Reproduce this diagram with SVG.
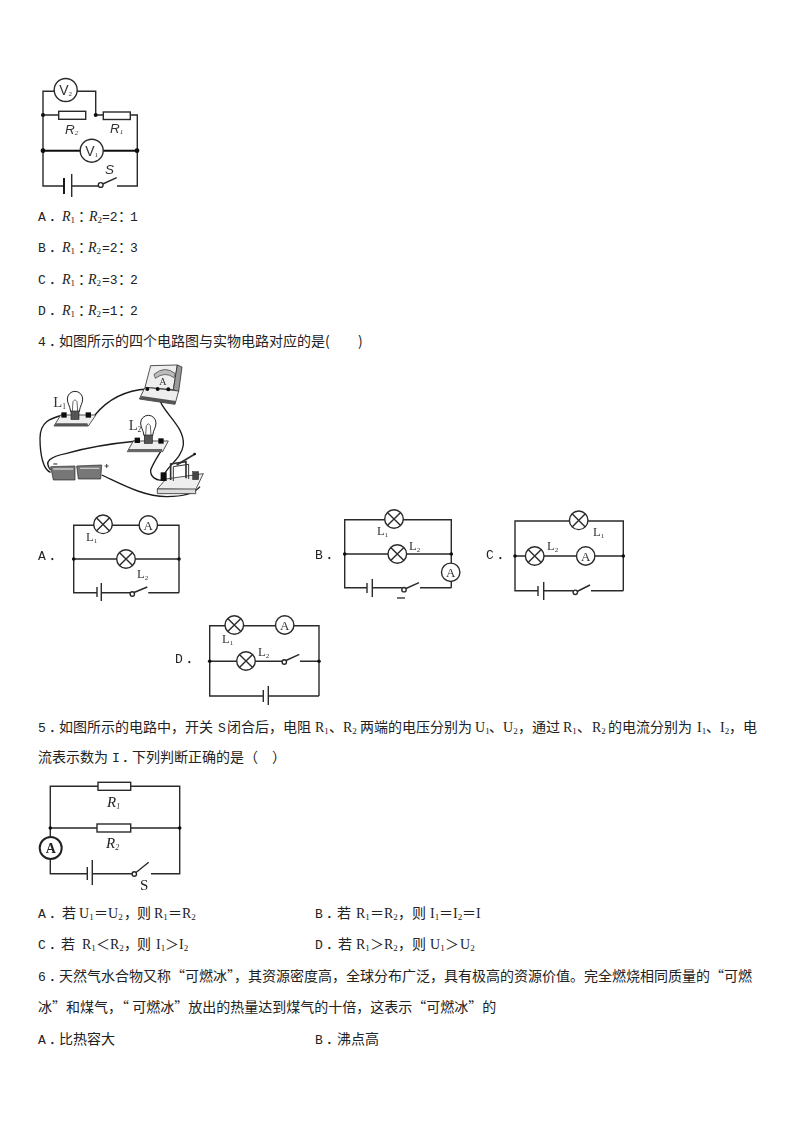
<svg xmlns="http://www.w3.org/2000/svg" width="794" height="1123" viewBox="0 0 794 1123" xml:lang="zh">
<style>
text{font-family:"Noto Sans CJK SC","Noto Sans",sans-serif;font-size:14px;fill:#222}
.l{font-family:"Liberation Mono",monospace;font-size:13px}
.r{font-family:"Liberation Serif",serif;font-size:14px}
.ri{font-family:"Liberation Serif",serif;font-size:14px;font-style:italic}
.s{font-family:"Liberation Serif",serif;font-size:9px}
.c{font-family:"Liberation Serif",serif;font-size:12.5px;fill:#333}
.cs{font-family:"Liberation Serif",serif;font-size:7px;fill:#333}
.a{font-family:"Liberation Sans",sans-serif;font-size:14px;fill:#333}
.ai{font-family:"Liberation Sans",sans-serif;font-size:13.5px;font-style:italic;fill:#333}
.w{fill:none;stroke:#2a2a2a;stroke-width:1.4}
.t{fill:none;stroke:#111;stroke-width:1.9}
.d{fill:#111;stroke:none}
.b{fill:#fff;stroke:#2a2a2a;stroke-width:1.4}
.pw{fill:none;stroke:#1a1a1a;stroke-width:4}
.pb{fill:#eee;stroke:#333;stroke-width:2.5}
.pd{fill:#444;stroke:#222;stroke-width:1.5}
.pt{font-family:"Liberation Serif",serif;font-size:44px;fill:#333}
</style>
<defs>
<g id="lamp"><circle r="9.300" class="b"/><path d="M-6.600-6.600L6.600 6.600M-6.600 6.600L6.600-6.600" class="w"/></g>
<g id="amm"><circle r="9.200" class="b"/><text y="4.500" text-anchor="middle" class="c" style="font-size:13px">A</text></g>
<g id="bulb">
<path d="M122 170C120 152 112 146 112 132A23 23 0 1 1 158 132C158 146 150 152 148 170Z" fill="#fff" stroke="#222" stroke-width="3"/>
<path d="M127 168L129 140L135 134L141 140L143 168" fill="none" stroke="#444" stroke-width="2.500"/>
<rect x="123" y="168" width="24" height="25" fill="#555" stroke="#222" stroke-width="2"/>
</g>
<filter id="soft"><feGaussianBlur stdDeviation="0.45"/></filter>
</defs>

<g id="fig-3" filter="url(#soft)">
<g id="fig-3-wires">
<path class="w" d="M95.700 115V91.300H43V186H64M71.700 186H98M117 186H137.300V115H130M103.300 115H95.700M85.700 115H58.700M58.700 115H43"/>
<path class="t" d="M43 150.700H137.300"/>
<path class="t" d="M64 178V194"/>
<path class="w" d="M71.700 174V197M102.700 184L116.700 177.700"/>
</g>
<circle class="d" cx="43" cy="115" r="2"/><circle class="d" cx="95.700" cy="115" r="2"/><circle class="d" cx="43" cy="150.700" r="2.400"/><circle class="d" cx="137" cy="150.700" r="2.400"/>
<g id="v2"><circle class="b" cx="65.700" cy="90" r="11.500"/><text class="a" x="65.700" y="95" text-anchor="middle">V<tspan class="cs" dy="1">2</tspan></text></g>
<g id="v1"><circle class="b" cx="91.700" cy="150.700" r="11.500"/><text class="a" x="91.700" y="156" text-anchor="middle">V<tspan class="cs" dy="1">1</tspan></text></g>
<g id="r2"><rect class="b" x="58.700" y="111.300" width="27" height="8"/></g>
<g id="r1"><rect class="b" x="103.300" y="112" width="27" height="7.500"/></g>
<circle class="b" cx="100.700" cy="185" r="2.400"/>
<text class="ai" x="65" y="134">R<tspan class="cs" dy="1">2</tspan></text>
<text class="ai" x="110" y="133">R<tspan class="cs" dy="1">1</tspan></text>
<text class="ai" x="105" y="174">S</text>
</g>

<g id="q3-options">
<text x="38" y="221"><tspan class="l">A</tspan><tspan x="49">．</tspan><tspan class="ri" x="62">R</tspan><tspan class="s" dy="2">1</tspan><tspan x="78" dy="-2">：</tspan><tspan class="ri" x="89">R</tspan><tspan class="s" dy="2">2</tspan><tspan class="l" x="102" dy="-2">=2</tspan><tspan x="118">：</tspan><tspan class="l" x="130">1</tspan></text>
<text x="38" y="252"><tspan class="l">B</tspan><tspan x="49">．</tspan><tspan class="ri" x="62">R</tspan><tspan class="s" dy="2">1</tspan><tspan x="78" dy="-2">：</tspan><tspan class="ri" x="88">R</tspan><tspan class="s" dy="2">2</tspan><tspan class="l" x="102" dy="-2">=2</tspan><tspan x="118">：</tspan><tspan class="l" x="130">3</tspan></text>
<text x="38" y="284"><tspan class="l">C</tspan><tspan x="49">．</tspan><tspan class="ri" x="62">R</tspan><tspan class="s" dy="2">1</tspan><tspan x="78" dy="-2">：</tspan><tspan class="ri" x="88">R</tspan><tspan class="s" dy="2">2</tspan><tspan class="l" x="102" dy="-2">=3</tspan><tspan x="118">：</tspan><tspan class="l" x="130">2</tspan></text>
<text x="38" y="315"><tspan class="l">D</tspan><tspan x="49">．</tspan><tspan class="ri" x="62">R</tspan><tspan class="s" dy="2">1</tspan><tspan x="78" dy="-2">：</tspan><tspan class="ri" x="88">R</tspan><tspan class="s" dy="2">2</tspan><tspan class="l" x="102" dy="-2">=1</tspan><tspan x="118">：</tspan><tspan class="l" x="130">2</tspan></text>
</g>

<text id="q4" x="38" y="346"><tspan class="l">4</tspan><tspan x="49">．</tspan><tspan x="59">如图所示的四个电路图与实物电路对应的是</tspan><tspan x="325">(</tspan><tspan x="358">)</tspan></text>

<g id="fig-4-photo" transform="translate(30 355) scale(.3333)" filter="url(#soft)">
<g id="photo-wires">
<path class="pw" d="M352 102C300 105 240 125 195 180"/>
<path class="pw" d="M100 180C60 190 30 200 30 250C30 300 40 345 62 352"/>
<path class="pw" d="M62 345C40 320 60 305 110 295C180 275 250 265 322 258"/>
<path class="pw" d="M410 258C400 280 370 320 362 345C360 365 380 378 395 375"/>
<path class="pw" d="M383 115C390 170 465 210 460 270C455 310 415 330 398 365"/>
<path class="pw" d="M215 360C270 385 340 425 410 425C450 425 490 420 510 395"/>
</g>
<g id="ammeter">
<path class="pb" d="M362 32L442 30L430 104L345 97Z"/>
<path d="M442 30L456 36L446 110L430 104Z" fill="#999" stroke="#333" stroke-width="2.500"/>
<path d="M372 58Q405 30 436 56L432 68Q405 48 376 70Z" fill="#bbb" stroke="#333" stroke-width="2"/>
<path class="pb" d="M345 97L446 108L435 148L328 132Z"/>
<path d="M328 132L435 148L438 138L335 123Z" fill="#555"/>
<circle class="d" cx="352" cy="102" r="6"/><circle class="d" cx="383" cy="102" r="6"/><circle class="d" cx="415" cy="103" r="6"/>
<text x="388" y="90" style="font-family:'Liberation Serif',serif;font-size:30px;fill:#333">A</text>
</g>
<g id="lamp-1">
<path class="pb" d="M72 213L92 180H198L175 213Z"/><path d="M72 213H175L172 205H78Z" fill="#555"/>
<use href="#bulb"/>
<rect class="d" x="94" y="172" width="16" height="16"/><rect class="d" x="167" y="172" width="16" height="16"/>
<text class="pt" x="70" y="156">L<tspan dy="6" style="font-size:22px">1</tspan></text>
</g>
<g id="lamp-2">
<path class="pb" d="M292 290L310 258H415L398 290Z"/><path d="M292 290H398L396 282H297Z" fill="#666"/>
<use href="#bulb" x="220" y="72"/>
<rect class="d" x="314" y="248" width="16" height="16"/><rect class="d" x="385" y="250" width="16" height="16"/>
<text class="pt" x="296" y="224">L<tspan dy="6" style="font-size:22px">2</tspan></text>
</g>
<g id="battery">
<path d="M62 335L135 333L135 375H70Z" fill="#777" stroke="#222" stroke-width="2"/>
<path d="M140 333L215 330L212 372H145Z" fill="#777" stroke="#222" stroke-width="2"/>
<path d="M70 342H130M150 340H208" stroke="#ccc" stroke-width="4"/>
<path d="M70 327H82" stroke="#222" stroke-width="3"/>
<path d="M224 333H236M230 327V339" stroke="#222" stroke-width="2.500"/>
</g>
<g id="switch">
<path class="pb" d="M382 402L408 372L520 356L497 404Z"/>
<path d="M382 402H497V416H382Z" fill="#ddd" stroke="#333" stroke-width="2.500"/>
<path d="M422 375V327L468 320V370" fill="none" stroke="#333" stroke-width="5"/>
<path d="M430 378V335L476 328V372" fill="none" stroke="#333" stroke-width="3"/>
<path d="M440 330L495 297" stroke="#333" stroke-width="5"/>
<circle class="d" cx="494" cy="297" r="4"/>
<rect class="d" x="392" y="352" width="18" height="26"/>
<rect class="pd" x="488" y="350" width="18" height="24"/>
</g>
</g>

<g id="circuit-a" filter="url(#soft)">
<text x="38" y="560"><tspan class="l">A</tspan><tspan x="49">．</tspan></text>
<path class="w" d="M179 592.700V525.300H73.700V592.700H97M101.300 592.700H130M148.300 592.700H179M73.700 559H179M97 587V597M101.300 583V601M134 592.500L147.300 587"/>
<circle class="d" cx="73.700" cy="559" r="1.800"/><circle class="d" cx="179" cy="559" r="1.800"/>
<circle class="b" cx="132.300" cy="594" r="2.200"/>
<use href="#lamp" x="103" y="524.300"/><use href="#amm" x="148.300" y="525"/><use href="#lamp" x="126" y="559"/>
<text class="c" x="86" y="541">L<tspan class="cs" dy="2">1</tspan></text>
<text class="c" x="137" y="578">L<tspan class="cs" dy="2">2</tspan></text>
</g>

<g id="circuit-b" filter="url(#soft)">
<text x="315" y="559"><tspan class="l">B</tspan><tspan x="326">．</tspan></text>
<path class="w" d="M451.300 587.700V519.700H344.700V587.700H367M372.300 587.700H402M420 587.700H451.300M344.700 554H451.300M367 583V593M372.300 579V597M406 588.500L419 582.700"/>
<path d="M397 598H405" stroke="#444" stroke-width="1.500"/>
<circle class="d" cx="344.700" cy="554" r="1.800"/><circle class="d" cx="451.300" cy="554" r="1.800"/>
<circle class="b" cx="404" cy="589.700" r="2.200"/>
<use href="#lamp" x="394" y="519"/><use href="#lamp" x="397.300" y="554"/><use href="#amm" x="450.700" y="572.300"/>
<text class="c" x="377" y="535">L<tspan class="cs" dy="2">1</tspan></text>
<text class="c" x="409" y="550">L<tspan class="cs" dy="2">2</tspan></text>
</g>

<g id="circuit-c" filter="url(#soft)">
<text x="486" y="559"><tspan class="l">C</tspan><tspan x="497">．</tspan></text>
<path class="w" d="M623.300 590.700V521H515V590.700H538M543.700 590.700H573M591 590.700H623.300M515 556H623.300M538 586V596M543.700 582V600M577 591.500L590 585"/>
<circle class="d" cx="515" cy="556" r="1.800"/><circle class="d" cx="623.300" cy="556" r="1.800"/>
<circle class="b" cx="575.300" cy="592.300" r="2.200"/>
<use href="#lamp" x="578.700" y="520.300"/><use href="#lamp" x="534.700" y="556"/><use href="#amm" x="585.700" y="556"/>
<text class="c" x="593" y="536">L<tspan class="cs" dy="2">1</tspan></text>
<text class="c" x="547" y="550">L<tspan class="cs" dy="2">2</tspan></text>
</g>

<g id="circuit-d" filter="url(#soft)">
<text x="175" y="663"><tspan class="l">D</tspan><tspan x="186">．</tspan></text>
<path class="w" d="M319 696V625.700H209.700V696H263.300M268.300 696H319M209.700 661.300H282M300 661.300H319M263.300 690V702M268.300 686V705M286 660.500L299.300 654.300"/>
<circle class="d" cx="209.700" cy="661.300" r="1.800"/><circle class="d" cx="319" cy="661.300" r="1.800"/>
<circle class="b" cx="284.300" cy="662" r="2.200"/>
<use href="#lamp" x="234.300" y="625"/><use href="#amm" x="284.700" y="625"/><use href="#lamp" x="246" y="661"/>
<text class="c" x="222" y="643">L<tspan class="cs" dy="2">1</tspan></text>
<text class="c" x="258" y="656">L<tspan class="cs" dy="2">2</tspan></text>
</g>

<g id="q5">
<text y="732"><tspan class="l" x="38">5</tspan><tspan x="49">．</tspan><tspan x="59">如图所示的电路中，开关</tspan><tspan class="l" x="218">S</tspan><tspan x="227">闭合后，电阻</tspan><tspan class="r" x="315">R</tspan><tspan class="s" dy="2">1</tspan><tspan x="329" dy="-2">、</tspan><tspan class="r" x="343">R</tspan><tspan class="s" dy="2">2</tspan><tspan x="360" dy="-2">两端的电压分别为</tspan><tspan class="r" x="475">U</tspan><tspan class="s" dy="2">1</tspan><tspan x="489" dy="-2">、</tspan><tspan class="r" x="503">U</tspan><tspan class="s" dy="2">2</tspan><tspan x="518" dy="-2">，通过</tspan><tspan class="r" x="563">R</tspan><tspan class="s" dy="2">1</tspan><tspan x="577" dy="-2">、</tspan><tspan class="r" x="592">R</tspan><tspan class="s" dy="2">2</tspan><tspan x="608" dy="-2">的电流分别为</tspan><tspan class="r" x="697">I</tspan><tspan class="s" dy="2">1</tspan><tspan x="706" dy="-2">、</tspan><tspan class="r" x="720">I</tspan><tspan class="s" dy="2">2</tspan><tspan x="729" dy="-2">，电</tspan></text>
<text y="762"><tspan x="38">流表示数为</tspan><tspan class="l" x="112">I</tspan><tspan x="122">．</tspan><tspan x="132">下列判断正确的是（</tspan><tspan x="272">）</tspan></text>
</g>

<g id="fig-5" filter="url(#soft)">
<path class="w" d="M98 786.300H50.300V873.700H87.300M92.300 873.700H132M151 873.700H179.700V786.300H130.700M50.300 828H179.700M87.300 867V880M92.300 860V885M136 872.500L148.700 862.300"/>
<circle class="d" cx="50.300" cy="828" r="1.800"/><circle class="d" cx="179.700" cy="828" r="1.800"/>
<g id="r1-5"><rect class="b" x="98" y="782.300" width="32.700" height="8"/></g>
<g id="r2-5"><rect class="b" x="97" y="824" width="33.700" height="8"/></g>
<g id="ammeter-5"><circle cx="50.700" cy="848" r="11" fill="#fff" stroke="#222" stroke-width="2"/><text x="50.700" y="853" text-anchor="middle" style="font-family:'Liberation Serif',serif;font-size:14px;font-weight:bold">A</text></g>
<circle class="b" cx="134.300" cy="874" r="2.200"/>
<text class="ri" x="107" y="807" style="font-size:15px">R<tspan class="cs" dy="2" style="font-size:8px">1</tspan></text>
<text class="ri" x="106" y="848" style="font-size:15px">R<tspan class="cs" dy="2" style="font-size:8px">2</tspan></text>
<text class="r" x="140" y="890" style="font-size:15px">S</text>
</g>

<g id="q5-options">
<text y="918"><tspan class="l" x="38">A</tspan><tspan x="49">．</tspan><tspan x="62">若</tspan><tspan class="r" x="79">U</tspan><tspan class="s" dy="2">1</tspan><tspan x="94" dy="-2">＝</tspan><tspan class="r" x="108">U</tspan><tspan class="s" dy="2">2</tspan><tspan x="124" dy="-2">，</tspan><tspan x="137">则</tspan><tspan class="r" x="154">R</tspan><tspan class="s" dy="2">1</tspan><tspan x="168" dy="-2">＝</tspan><tspan class="r" x="182">R</tspan><tspan class="s" dy="2">2</tspan></text>
<text y="918"><tspan class="l" x="315">B</tspan><tspan x="326">．</tspan><tspan x="337">若</tspan><tspan class="r" x="356">R</tspan><tspan class="s" dy="2">1</tspan><tspan x="370" dy="-2">＝</tspan><tspan class="r" x="384">R</tspan><tspan class="s" dy="2">2</tspan><tspan x="398" dy="-2">，</tspan><tspan x="412">则</tspan><tspan class="r" x="430">I</tspan><tspan class="s" dy="2">1</tspan><tspan x="439" dy="-2">＝</tspan><tspan class="r" x="453">I</tspan><tspan class="s" dy="2">2</tspan><tspan x="462" dy="-2">＝</tspan><tspan class="r" x="476">I</tspan></text>
<text y="949"><tspan class="l" x="38">C</tspan><tspan x="49">．</tspan><tspan x="61">若</tspan><tspan class="r" x="82">R</tspan><tspan class="s" dy="2">1</tspan><tspan x="96" dy="-2">＜</tspan><tspan class="r" x="110">R</tspan><tspan class="s" dy="2">2</tspan><tspan x="124" dy="-2">，</tspan><tspan x="137">则</tspan><tspan class="r" x="156">I</tspan><tspan class="s" dy="2">1</tspan><tspan x="165" dy="-2">＞</tspan><tspan class="r" x="179">I</tspan><tspan class="s" dy="2">2</tspan></text>
<text y="949"><tspan class="l" x="315">D</tspan><tspan x="326">．</tspan><tspan x="338">若</tspan><tspan class="r" x="356">R</tspan><tspan class="s" dy="2">1</tspan><tspan x="370" dy="-2">＞</tspan><tspan class="r" x="384">R</tspan><tspan class="s" dy="2">2</tspan><tspan x="398" dy="-2">，</tspan><tspan x="412">则</tspan><tspan class="r" x="430">U</tspan><tspan class="s" dy="2">1</tspan><tspan x="445" dy="-2">＞</tspan><tspan class="r" x="460">U</tspan><tspan class="s" dy="2">2</tspan></text>
</g>

<g id="q6">
<text y="981"><tspan class="l" x="38">6</tspan><tspan x="49">．</tspan><tspan x="59">天然气水合物又称“可燃冰”，其资源密度高，全球分布广泛，具有极高的资源价值。完全燃烧相同质量的“可燃</tspan></text>
<text x="38" y="1012">冰”和煤气，“ 可燃冰”放出的热量达到煤气的十倍，这表示“可燃冰”的</text>
<text y="1044"><tspan class="l" x="38">A</tspan><tspan x="49">．</tspan><tspan x="59">比热容大</tspan></text>
<text y="1044"><tspan class="l" x="315">B</tspan><tspan x="326">．</tspan><tspan x="337">沸点高</tspan></text>
</g>
</svg>
